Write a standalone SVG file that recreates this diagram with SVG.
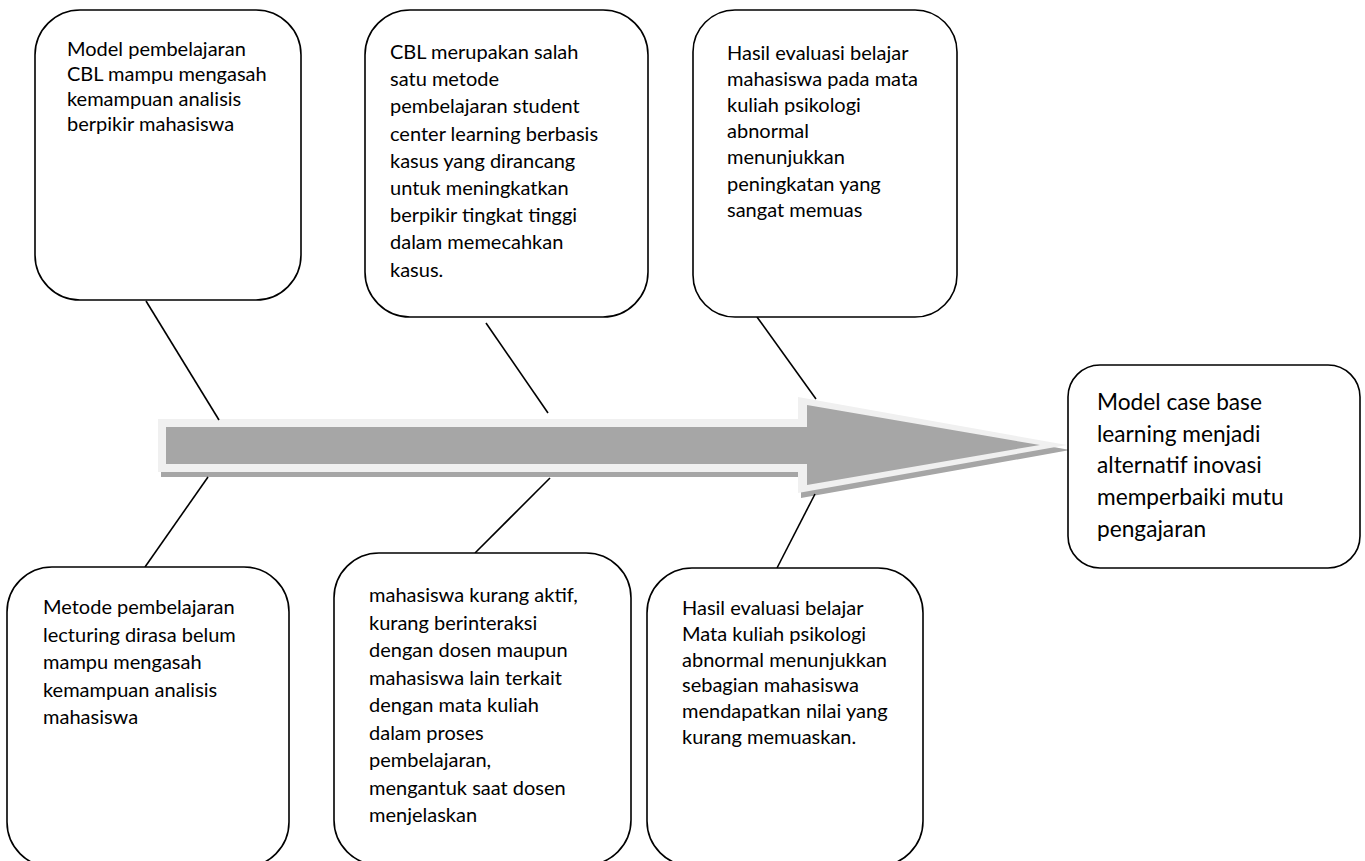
<svg xmlns="http://www.w3.org/2000/svg" width="1365" height="861" viewBox="0 0 1365 861">
<style>
.box{fill:#fff;stroke:#000;stroke-width:1.6}
.t{font-family:Lato,"Open Sans","Liberation Sans",sans-serif;font-size:20px;fill:#000}
.big{font-size:22.7px}
.con{stroke:#000;stroke-width:1.6;fill:none}
</style>
<rect width="1365" height="861" fill="#fff"/>
<g id="arrow">
<polygon points="161,424 801,424 801,402 1070,450 801,498 801,477 161,477" fill="#a6a6a6"/>
<polygon points="158,419 798,419 798,397 1067,445 798,493 798,472 158,472" fill="#f0f0f0"/>
<polygon points="166,427 807,427 807,405 1040,445 807,485 807,464 166,464" fill="#a6a6a6"/>
</g>
<g id="connectors">
<line class="con" x1="146" y1="301" x2="219" y2="420"/>
<line class="con" x1="486" y1="323" x2="548" y2="413"/>
<line class="con" x1="757" y1="317" x2="816" y2="399"/>
<line class="con" x1="208" y1="477" x2="145" y2="567"/>
<line class="con" x1="550" y1="478" x2="475" y2="553"/>
<line class="con" x1="815" y1="494" x2="777" y2="568"/>
</g>
<g id="node1">
<rect class="box" x="35" y="10" width="266" height="290" rx="45"/>
<text class="t" x="67" y="56"><tspan x="67">Model pembelajaran</tspan><tspan x="67" dy="25">CBL mampu mengasah</tspan><tspan x="67" dy="25">kemampuan analisis</tspan><tspan x="67" dy="25">berpikir mahasiswa</tspan></text>
</g>
<g id="node2">
<rect class="box" x="365" y="10" width="283" height="307" rx="45"/>
<text class="t" x="390" y="59"><tspan x="390">CBL merupakan salah</tspan><tspan x="390" dy="27.2">satu metode</tspan><tspan x="390" dy="27.2">pembelajaran student</tspan><tspan x="390" dy="27.2">center learning berbasis</tspan><tspan x="390" dy="27.2">kasus yang dirancang</tspan><tspan x="390" dy="27.2">untuk meningkatkan</tspan><tspan x="390" dy="27.2">berpikir tingkat tinggi</tspan><tspan x="390" dy="27.2">dalam memecahkan</tspan><tspan x="390" dy="27.2">kasus.</tspan></text>
</g>
<g id="node3">
<rect class="box" x="693" y="10" width="264" height="307" rx="42"/>
<text class="t" x="727" y="60"><tspan x="727">Hasil evaluasi belajar</tspan><tspan x="727" dy="26.1">mahasiswa pada mata</tspan><tspan x="727" dy="26.1">kuliah psikologi</tspan><tspan x="727" dy="26.1">abnormal</tspan><tspan x="727" dy="26.1">menunjukkan</tspan><tspan x="727" dy="26.1">peningkatan yang</tspan><tspan x="727" dy="26.1">sangat memuas</tspan></text>
</g>
<g id="node4">
<rect class="box" x="7" y="567" width="282" height="300" rx="45"/>
<text class="t" x="43" y="614"><tspan x="43">Metode pembelajaran</tspan><tspan x="43" dy="27.5">lecturing dirasa belum</tspan><tspan x="43" dy="27.5">mampu mengasah</tspan><tspan x="43" dy="27.5">kemampuan analisis</tspan><tspan x="43" dy="27.5">mahasiswa</tspan></text>
</g>
<g id="node5">
<rect class="box" x="334" y="553" width="297" height="312" rx="45"/>
<text class="t" x="369" y="602"><tspan x="369">mahasiswa kurang aktif,</tspan><tspan x="369" dy="27.5">kurang berinteraksi</tspan><tspan x="369" dy="27.5">dengan dosen maupun</tspan><tspan x="369" dy="27.5">mahasiswa lain terkait</tspan><tspan x="369" dy="27.5">dengan mata kuliah</tspan><tspan x="369" dy="27.5">dalam proses</tspan><tspan x="369" dy="27.5">pembelajaran,</tspan><tspan x="369" dy="27.5">mengantuk saat dosen</tspan><tspan x="369" dy="27.5">menjelaskan</tspan></text>
</g>
<g id="node6">
<rect class="box" x="647" y="568" width="276" height="298" rx="45"/>
<text class="t" x="682" y="615"><tspan x="682">Hasil evaluasi belajar</tspan><tspan x="682" dy="25.8">Mata kuliah psikologi</tspan><tspan x="682" dy="25.8">abnormal menunjukkan</tspan><tspan x="682" dy="25.8">sebagian mahasiswa</tspan><tspan x="682" dy="25.8">mendapatkan nilai yang</tspan><tspan x="682" dy="25.8">kurang memuaskan.</tspan></text>
</g>
<g id="node7">
<rect class="box" x="1068" y="365" width="292" height="203" rx="32"/>
<text class="t big" x="1097" y="410"><tspan x="1097">Model case base</tspan><tspan x="1097" dy="31.7">learning menjadi</tspan><tspan x="1097" dy="31.7">alternatif inovasi</tspan><tspan x="1097" dy="31.7">memperbaiki mutu</tspan><tspan x="1097" dy="31.7">pengajaran</tspan></text>
</g>
</svg>
